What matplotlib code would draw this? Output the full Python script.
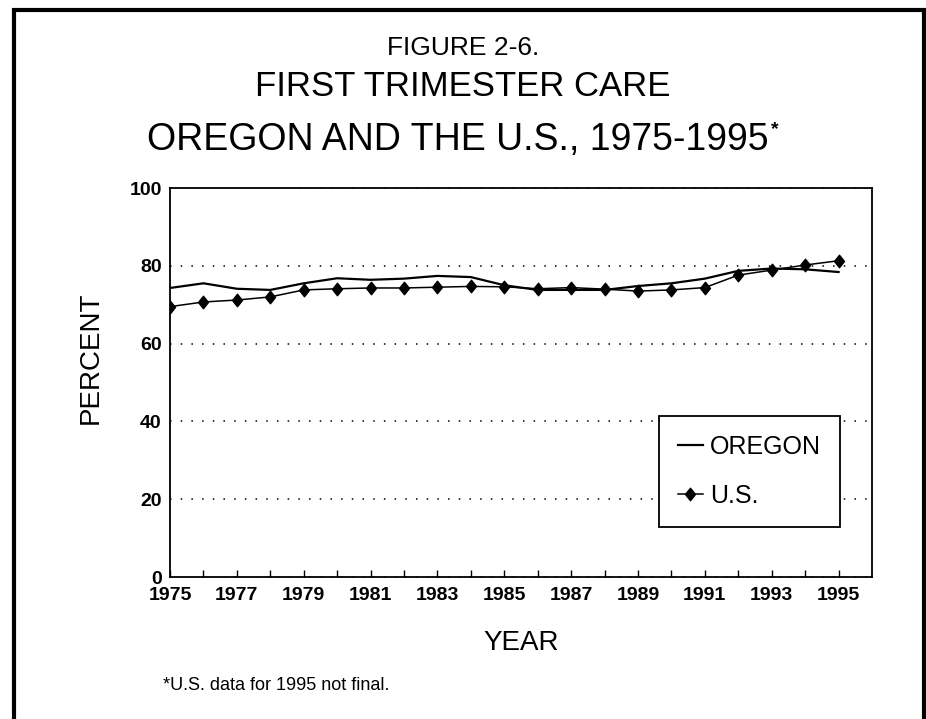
import matplotlib
matplotlib.use("Agg")
import matplotlib.pyplot as plt
from matplotlib.patches import Rectangle
from matplotlib.path import Path

# dados (percentual com cuidado pre-natal no 1o trimestre)
anos = list(range(1975, 1996))
oregon = [74.3, 75.5, 74.1, 73.8, 75.5, 76.8, 76.4, 76.7, 77.4, 77.1, 75.0,
          73.8, 73.8, 73.8, 74.8, 75.5, 76.7, 78.7, 79.3, 79.1, 78.4]
eua = [69.5, 70.7, 71.2, 72.0, 73.8, 74.1, 74.3, 74.3, 74.5, 74.7, 74.6,
       74.1, 74.4, 74.0, 73.5, 73.8, 74.4, 77.6, 78.9, 80.2, 81.3]
anos_rotulo = list(range(1975, 1996, 2))
valores_y = [0, 20, 40, 60, 80, 100]

plt.rcParams['font.family'] = ['Liberation Sans', 'DejaVu Sans']

W, H = 926, 719


def fx(x):
    return x / W


def fy(y):
    return 1 - y / H


fig = plt.figure(figsize=(W / 100, H / 100), dpi=100)
ax = fig.add_axes([fx(170), fy(577), 702 / W, 389 / H])

diamante = Path([(0, 1), (0.8, 0), (0, -1), (-0.8, 0), (0, 1)],
                [Path.MOVETO, Path.LINETO, Path.LINETO, Path.LINETO, Path.CLOSEPOLY])

ax.plot(anos, oregon, color='black', lw=1.6, label='OREGON', zorder=3)
ax.plot(anos, eua, color='black', lw=1.1, marker=diamante, markersize=9,
        label='U.S.', zorder=4)

ax.set_xlim(1975, 1996)
ax.set_ylim(0, 100)
ax.set_xticks(anos_rotulo)
ax.set_xticklabels([str(a) for a in anos_rotulo], fontweight='bold')
ax.set_xticks([a for a in anos if a not in anos_rotulo], minor=True)
ax.set_yticks(valores_y)
ax.set_yticklabels([str(v) for v in valores_y], fontweight='bold')

ax.tick_params(axis='x', which='both', direction='in', length=5, width=1,
               labelsize=14, pad=7)
ax.tick_params(axis='y', length=0, labelsize=14, pad=6)

ax.grid(axis='y', linestyle=(0, (1, 6)), color='black', lw=1.1, zorder=1)
for lado in ax.spines.values():
    lado.set_linewidth(1.3)

leg = ax.legend(loc='upper left', bbox_to_anchor=((659 - 170) / 702, (577 - 416) / 389),
                borderaxespad=0, fontsize=18, frameon=True, fancybox=False,
                handlelength=1.0, handletextpad=0.3, borderpad=0.75,
                labelspacing=1.0)
leg.get_frame().set_edgecolor('black')
leg.get_frame().set_linewidth(1.3)
leg.get_frame().set_alpha(1)

fig.text(0.5, fy(55), 'FIGURE 2-6.', ha='center', va='baseline', fontsize=19)
fig.text(0.5, fy(96), 'FIRST TRIMESTER CARE', ha='center', va='baseline', fontsize=25)
titulo = fig.text(fx(458), fy(150), 'OREGON AND THE U.S., 1975-1995',
                  ha='center', va='baseline', fontsize=27)

fig.text(fx(91), fy(358), 'PERCENT', rotation=90, ha='center', va='center', fontsize=20)
fig.text(fx(521), fy(650), 'YEAR', ha='center', va='baseline', fontsize=20)
fig.text(fx(163), fy(690), '*U.S. data for 1995 not final.', va='baseline', fontsize=13)

# moldura da pagina
fig.patches.append(Rectangle((fx(14), -0.1), fx(924) - fx(14), fy(10) + 0.1,
                             transform=fig.transFigure, fill=False,
                             edgecolor='black', lw=3))

fig.canvas.draw()
caixa = titulo.get_window_extent()
fig.text(caixa.x1 / W + 0.002, fy(134), '*', ha='left', va='baseline',
         fontsize=14, fontweight='bold')

fig.savefig('out.png', dpi=100)
